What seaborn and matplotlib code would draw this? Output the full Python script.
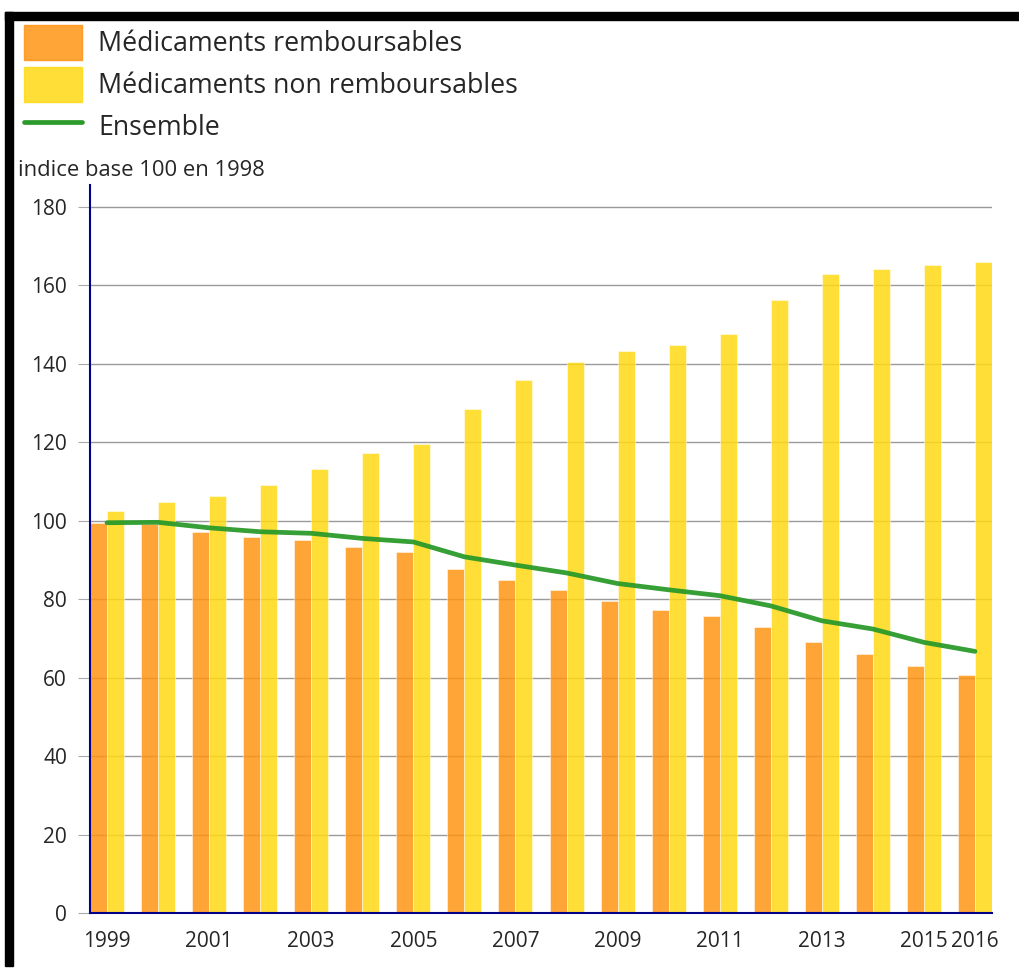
import numpy as np
import pandas as pd
import matplotlib
matplotlib.use('Agg')
import matplotlib.pyplot as plt
import seaborn as sns
from matplotlib.patches import Rectangle
from matplotlib.lines import Line2D

# Data (indice base 100 en 1998)
years = [str(y) for y in range(1999, 2017)]
rembours = [99.5, 99.1, 97.2, 95.9, 95.0, 93.4, 92.1, 87.6, 84.9, 82.4,
            79.6, 77.3, 75.7, 72.9, 69.0, 66.1, 62.9, 60.6]
non_rembours = [102.4, 104.7, 106.3, 109.2, 113.2, 117.3, 119.6, 128.5, 135.9, 140.5,
                143.3, 144.8, 147.6, 156.3, 163.0, 164.3, 165.2, 165.9]
ensemble = [99.5, 99.6, 98.2, 97.2, 96.8, 95.5, 94.6, 90.8, 88.7, 86.7,
            84.0, 82.4, 80.9, 78.3, 74.5, 72.4, 69.0, 66.7]
labels = ['Médicaments remboursables', 'Médicaments non remboursables', 'Ensemble']
tick_years = ['1999', '2001', '2003', '2005', '2007', '2009', '2011', '2013', '2015', '2016']

orange = '#ff9414'
yellow = '#ffd914'
green = '#2b9a2b'
navy = '#00008b'

sns.set_style('white')
plt.rcParams['font.family'] = ['Open Sans', 'DejaVu Sans']

W, H = 1019, 972
fig = plt.figure(figsize=(W / 100, H / 100), dpi=100)
ax = fig.add_axes([90 / W, 1 - 913 / H, (992 - 90) / W, (913 - 185) / H])

df = pd.DataFrame({
    'year': years * 2,
    'val': rembours + non_rembours,
    'serie': [labels[0]] * len(years) + [labels[1]] * len(years),
})
sns.barplot(data=df, x='year', y='val', hue='serie', palette=[orange, yellow],
            width=0.667, alpha=0.85, saturation=1, edgecolor='white', linewidth=0.4,
            legend=False, ax=ax)

sns.lineplot(x=np.arange(len(years)), y=ensemble, color=green, lw=3.4,
             alpha=0.95, ax=ax, legend=False)

ax.set_xlim(-0.333, len(years) - 1 + 0.333)
ax.set_ylim(0, 185.6)
ax.set_yticks(range(0, 181, 20))
ax.set_xticks([years.index(y) for y in tick_years])
ax.set_xticklabels(tick_years)
ax.set_xlabel('')
ax.set_ylabel('')

ax.yaxis.grid(True, color='#9a9a9a', lw=1)
ax.set_axisbelow(True)
ax.tick_params(axis='y', length=8.5, color='#aaaaaa', pad=8, labelsize=15, left=True)
ax.tick_params(axis='x', length=0, pad=13, labelsize=15)

for s in ['top', 'right']:
    ax.spines[s].set_visible(False)
for s in ['left', 'bottom']:
    ax.spines[s].set_color(navy)
    ax.spines[s].set_linewidth(1.5)

fig.text(18 / W, 1 - 170 / H, 'indice base 100 en 1998', fontsize=15.8, va='center', ha='left')

handles = [Rectangle((0, 0), 1, 1, color=orange, alpha=0.85),
           Rectangle((0, 0), 1, 1, color=yellow, alpha=0.85),
           Line2D([], [], color=green, lw=3.4)]
fig.legend(handles, labels, loc='upper left', bbox_to_anchor=(24 / W, 1 - 25 / H),
           frameon=False, fontsize=19.3, borderpad=0, borderaxespad=0,
           handlelength=2.16, handleheight=1.63, handletextpad=0.6, labelspacing=0.26)

# black frame (top and left)
fig.add_artist(Rectangle((5 / W, 1 - 20 / H), 1 - 5 / W, 8 / H, color='black',
                         transform=fig.transFigure))
fig.add_artist(Rectangle((5 / W, 1 - 966 / H), 8 / W, (966 - 12) / H, color='black',
                         transform=fig.transFigure))

fig.savefig('out.png', dpi=100)
